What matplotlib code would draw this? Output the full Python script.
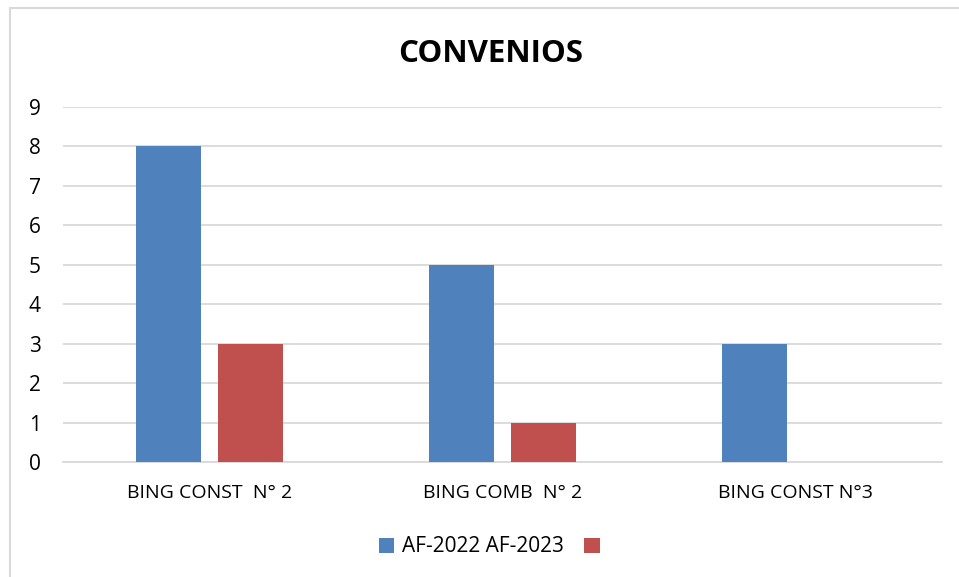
import numpy as np
import matplotlib.pyplot as plt
from matplotlib.patches import Rectangle

# %% Data ---------------------------------------------------------------------
categories = ['BING CONST  N° 2', 'BING COMB  N° 2', 'BING CONST N°3']
af_2022 = [8, 5, 3]
af_2023 = [3, 1, 0]
series_labels = ['AF-2022 AF-2023', '']
yticks = list(range(0, 10))

# %% Plot ---------------------------------------------------------------------
plt.rcParams['font.family'] = ['Open Sans', 'DejaVu Sans']

fig = plt.figure(figsize=(9.59, 5.77), dpi=100)
ax = fig.add_axes([63/959, 1 - 462/577, (942 - 63)/959, (462 - 107)/577])

x = np.arange(len(categories))
width = 0.222
offset = 0.141
b1 = ax.bar(x - offset, af_2022, width, color='#4F81BD', zorder=3)
b2 = ax.bar(x + offset, af_2023, width, color='#C0504D', zorder=3)

ax.set_xlim(-0.5, len(categories) - 0.5)
ax.set_ylim(0, 9)
ax.set_yticks(yticks)
ax.set_xticks(x)
ax.set_xticklabels(categories)
ax.tick_params(axis='both', length=0, labelsize=14, colors='#000000')
ax.tick_params(axis='y', pad=16, labelsize=15)
ax.tick_params(axis='x', pad=16)
ax.yaxis.grid(True, color='#d9d9d9', linewidth=1.3, zorder=0)
for side in ['top', 'right', 'left']:
    ax.spines[side].set_visible(False)
ax.spines['bottom'].set_color('#d9d9d9')
ax.spines['bottom'].set_linewidth(1.3)

# title
fig.text(491/959, 1 - 54/577, 'CONVENIOS', ha='center', va='center',
         fontsize=22.5, fontweight='bold')

# legend
fig.legend([b1, b2], series_labels, loc='center', ncol=2,
           bbox_to_anchor=(493/959, 1 - 547/577), frameon=False,
           fontsize=15, handlelength=0.75, handleheight=0.75,
           handletextpad=0.35, columnspacing=1.0)

# chart border
fig.patches.append(Rectangle((10/959, -0.01), 1.0, 1 - 8/577 + 0.01,
                             transform=fig.transFigure, fill=False,
                             edgecolor='#d9d9d9', linewidth=1.5))

fig.savefig('out.png', dpi=100)
